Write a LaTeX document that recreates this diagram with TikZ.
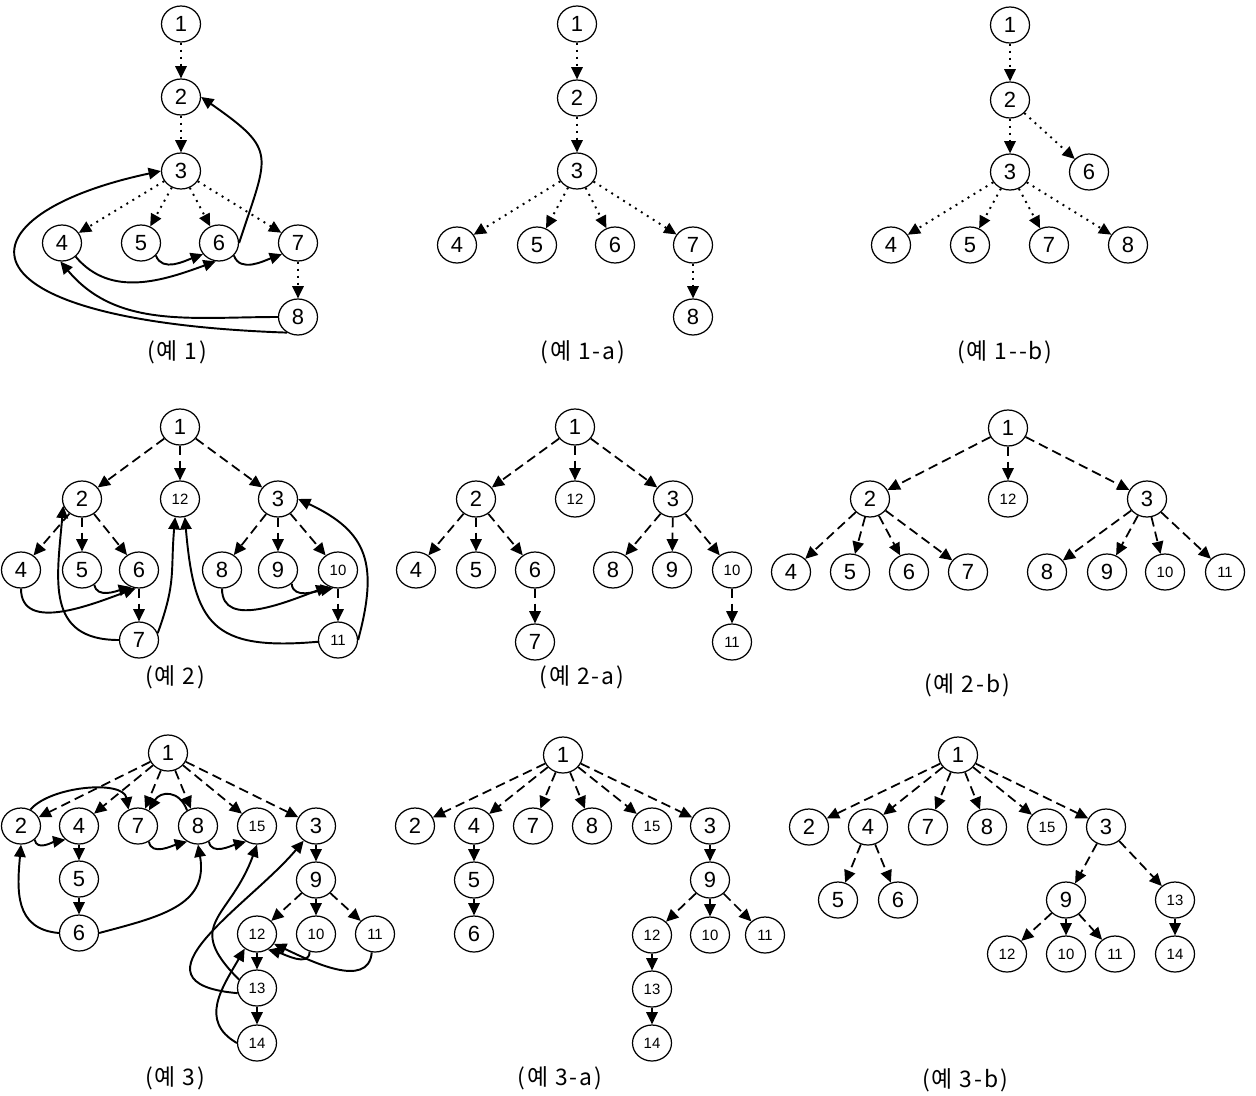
\documentclass[tikz,border=0pt]{standalone}
\usepackage{fontspec}
\setmainfont{Liberation Sans}
\newfontfamily\krfont[LetterSpace=8]{Noto Sans CJK KR}
\usetikzlibrary{arrows.meta,shapes.geometric}

\begin{document}
\begin{tikzpicture}[
        x=0.02cm, y=-0.02cm,
    vtx/.style={ellipse, draw, line width=0.7pt, minimum width=0.78cm,
        minimum height=0.72cm, inner sep=0pt, font=\fontsize{12.5}{12.5}\selectfont},
    sm/.style={font=\fontsize{8.5}{8.5}\selectfont},
    ttl/.style={inner sep=0pt, font=\krfont\fontsize{13}{13}\selectfont},
    arrhead/.style={-{Triangle[length=7pt,width=6.5pt]}},
    dotarr/.style={arrhead, line width=1.1pt, dash pattern=on 1.1pt off 2.9pt},
    dasharr/.style={arrhead, line width=1pt, dash pattern=on 5.5pt off 3pt},
    backarr/.style={arrhead, line width=1.1pt}
]
    \useasboundingbox (0,0) rectangle (1256,1095);

    \node[vtx] (A1) at (181,24) {1};
    \node[vtx] (A2) at (181,97) {2};
    \node[vtx] (A3) at (181,171) {3};
    \node[vtx] (A4) at (62,243) {4};
    \node[vtx] (A5) at (141,243) {5};
    \node[vtx] (A6) at (219,243) {6};
    \node[vtx] (A7) at (298,243) {7};
    \node[vtx] (A8) at (298,317) {8};
    \node[ttl] (ttlA) at (177,352) {(예 1)};

    \node[vtx] (Aa1) at (577,24) {1};
    \node[vtx] (Aa2) at (577,98) {2};
    \node[vtx] (Aa3) at (577,171) {3};
    \node[vtx] (Aa4) at (457,245) {4};
    \node[vtx] (Aa5) at (537,245) {5};
    \node[vtx] (Aa6) at (615,245) {6};
    \node[vtx] (Aa7) at (693,245) {7};
    \node[vtx] (Aa8) at (693,317) {8};
    \node[ttl] (ttlAa) at (583,352) {(예 1-a)};

    \node[vtx] (Ab1) at (1010,25) {1};
    \node[vtx] (Ab2) at (1010,100) {2};
    \node[vtx] (Ab3) at (1010,172) {3};
    \node[vtx] (Ab6) at (1089,172) {6};
    \node[vtx] (Ab4) at (891,245) {4};
    \node[vtx] (Ab5) at (970,245) {5};
    \node[vtx] (Ab7) at (1049,245) {7};
    \node[vtx] (Ab8) at (1128,245) {8};
    \node[ttl] (ttlAb) at (1005,352) {(예 1-{}-b)};

    \node[vtx] (B1) at (180,427) {1};
    \node[vtx] (B2) at (82,499) {2};
    \node[vtx,sm] (B12) at (180,499) {12};
    \node[vtx] (B3) at (278,499) {3};
    \node[vtx] (B4) at (21,570) {4};
    \node[vtx] (B5) at (82,570) {5};
    \node[vtx] (B6) at (139,570) {6};
    \node[vtx] (B8) at (222,570) {8};
    \node[vtx] (B9) at (278,570) {9};
    \node[vtx,sm] (B10) at (338,570) {10};
    \node[vtx] (B7) at (139,640) {7};
    \node[vtx,sm] (B11) at (338,640) {11};
    \node[ttl] (ttlB) at (175,677) {(예 2)};

    \node[vtx] (Ba1) at (575,427) {1};
    \node[vtx] (Ba2) at (476,499) {2};
    \node[vtx,sm] (Ba12) at (575,499) {12};
    \node[vtx] (Ba3) at (673,499) {3};
    \node[vtx] (Ba4) at (416,570) {4};
    \node[vtx] (Ba5) at (476,570) {5};
    \node[vtx] (Ba6) at (535,570) {6};
    \node[vtx] (Ba8) at (613,570) {8};
    \node[vtx] (Ba9) at (672,570) {9};
    \node[vtx,sm] (Ba10) at (732,570) {10};
    \node[vtx] (Ba7) at (535,642) {7};
    \node[vtx,sm] (Ba11) at (732,642) {11};
    \node[ttl] (ttlBa) at (582,677) {(예 2-a)};

    \node[vtx] (Bb1) at (1008,428) {1};
    \node[vtx] (Bb2) at (870,499) {2};
    \node[vtx,sm] (Bb12) at (1008,499) {12};
    \node[vtx] (Bb3) at (1147,499) {3};
    \node[vtx] (Bb4) at (791,572) {4};
    \node[vtx] (Bb5) at (850,572) {5};
    \node[vtx] (Bb6) at (909,572) {6};
    \node[vtx] (Bb7) at (968,572) {7};
    \node[vtx] (Bb8) at (1047,572) {8};
    \node[vtx] (Bb9) at (1107,572) {9};
    \node[vtx,sm] (Bb10) at (1165,572) {10};
    \node[vtx,sm] (Bb11) at (1225,572) {11};
    \node[ttl] (ttlBb) at (967,685) {(예 2-b)};

    \node[vtx] (C1) at (168,753) {1};
    \node[vtx] (C2) at (21,826) {2};
    \node[vtx] (C4) at (79,826) {4};
    \node[vtx] (C7) at (138,826) {7};
    \node[vtx] (C8) at (198,826) {8};
    \node[vtx,sm] (C15) at (257,826) {15};
    \node[vtx] (C3) at (316,826) {3};
    \node[vtx] (C5) at (79,879) {5};
    \node[vtx] (C6) at (79,933) {6};
    \node[vtx] (C9) at (316,880) {9};
    \node[vtx,sm] (C12) at (257,934) {12};
    \node[vtx,sm] (C10) at (316,934) {10};
    \node[vtx,sm] (C11) at (375,934) {11};
    \node[vtx,sm] (C13) at (257,988) {13};
    \node[vtx,sm] (C14) at (257,1043) {14};
    \node[ttl] (ttlC) at (175,1078) {(예 3)};

    \node[vtx] (Ca1) at (563,755) {1};
    \node[vtx] (Ca2) at (415,826) {2};
    \node[vtx] (Ca4) at (474,826) {4};
    \node[vtx] (Ca7) at (533,826) {7};
    \node[vtx] (Ca8) at (592,826) {8};
    \node[vtx,sm] (Ca15) at (652,826) {15};
    \node[vtx] (Ca3) at (710,826) {3};
    \node[vtx] (Ca5) at (474,880) {5};
    \node[vtx] (Ca6) at (474,934) {6};
    \node[vtx] (Ca9) at (710,880) {9};
    \node[vtx,sm] (Ca12) at (652,935) {12};
    \node[vtx,sm] (Ca10) at (710,935) {10};
    \node[vtx,sm] (Ca11) at (765,935) {11};
    \node[vtx,sm] (Ca13) at (652,989) {13};
    \node[vtx,sm] (Ca14) at (652,1043) {14};
    \node[ttl] (ttlCa) at (560,1078) {(예 3-a)};

    \node[vtx] (Cb1) at (958,755) {1};
    \node[vtx] (Cb2) at (809,827) {2};
    \node[vtx] (Cb4) at (868,827) {4};
    \node[vtx] (Cb7) at (928,827) {7};
    \node[vtx] (Cb8) at (987,827) {8};
    \node[vtx,sm] (Cb15) at (1047,827) {15};
    \node[vtx] (Cb3) at (1106,827) {3};
    \node[vtx] (Cb5) at (838,900) {5};
    \node[vtx] (Cb6) at (898,900) {6};
    \node[vtx] (Cb9) at (1066,900) {9};
    \node[vtx,sm] (Cb13) at (1175,900) {13};
    \node[vtx,sm] (Cb12) at (1007,954) {12};
    \node[vtx,sm] (Cb10) at (1066,954) {10};
    \node[vtx,sm] (Cb11) at (1115,954) {11};
    \node[vtx,sm] (Cb14) at (1175,954) {14};
    \node[ttl] (ttlCb) at (965,1080) {(예 3-b)};

    % (예 1)
    \draw[dotarr] (A1) -- (A2);
    \draw[dotarr] (A2) -- (A3);
    \draw[dotarr] (A3) -- (A4);
    \draw[dotarr] (A3) -- (A5);
    \draw[dotarr] (A3) -- (A6);
    \draw[dotarr] (A3) -- (A7);
    \draw[dotarr] (A7) -- (A8);
    \draw[backarr] (A6.east)
        to [out=72,in=-35,looseness=1.6] (A2.east);
    \draw[backarr] (A5.-40) to [out=-70,in=-160] (A6.-145);
    \draw[backarr] (A6.-40) to [out=-70,in=-160] (A7.-145);
    \draw[backarr] (A4.-45) to [out=-50,in=-160] (A6.-100);
    \draw[backarr] (A8.west) to [out=180,in=-50] (A4.-95);
    \draw[backarr] (A8.-125)
        to [out=178,in=-168,out looseness=4.3,in looseness=2.6] (A3.west);

    % (예 1-a), (예 1-b)
    \draw[dotarr] (Aa1) -- (Aa2);
    \draw[dotarr] (Aa2) -- (Aa3);
    \draw[dotarr] (Aa3) -- (Aa4);
    \draw[dotarr] (Aa3) -- (Aa5);
    \draw[dotarr] (Aa3) -- (Aa6);
    \draw[dotarr] (Aa3) -- (Aa7);
    \draw[dotarr] (Aa7) -- (Aa8);
    \draw[dotarr] (Ab1) -- (Ab2);
    \draw[dotarr] (Ab2) -- (Ab3);
    \draw[dotarr] (Ab2) -- (Ab6);
    \draw[dotarr] (Ab3) -- (Ab4);
    \draw[dotarr] (Ab3) -- (Ab5);
    \draw[dotarr] (Ab3) -- (Ab7);
    \draw[dotarr] (Ab3) -- (Ab8);

    % (예 2)
    \draw[dasharr] (B1) -- (B2);
    \draw[dasharr] (B1) -- (B12);
    \draw[dasharr] (B1) -- (B3);
    \draw[dasharr] (B2) -- (B4);
    \draw[dasharr] (B2) -- (B5);
    \draw[dasharr] (B2) -- (B6);
    \draw[dasharr] (B6) -- (B7);
    \draw[dasharr] (B3) -- (B8);
    \draw[dasharr] (B3) -- (B9);
    \draw[dasharr] (B3) -- (B10);
    \draw[dasharr] (B10) -- (B11);
    \draw[backarr] (B5.-50) to [out=-80,in=-165] (B6.-115);
    \draw[backarr] (B4.south) to [out=-90,in=-160] (B6.-100);
    \draw[backarr] (B7.west) to [out=180,in=-95,looseness=1.3] (B2.-160);
    \draw[backarr] (B7.20) to [out=70,in=-95,looseness=1.2] (B12.-105);
    \draw[backarr] (B11.185) to [out=185,in=-85,looseness=1.5] (B12.-75);
    \draw[backarr] (B11.east) to [out=75,in=-25,looseness=1.3] (B3.east);
    \draw[backarr] (B8.south) to [out=-90,in=-160] (B10.-120);
    \draw[backarr] (B9.-45) to [out=-85,in=-170] (B10.-105);

    % (예 2-a), (예 2-b)
    \draw[dasharr] (Ba1) -- (Ba2);
    \draw[dasharr] (Ba1) -- (Ba12);
    \draw[dasharr] (Ba1) -- (Ba3);
    \draw[dasharr] (Ba2) -- (Ba4);
    \draw[dasharr] (Ba2) -- (Ba5);
    \draw[dasharr] (Ba2) -- (Ba6);
    \draw[dasharr] (Ba6) -- (Ba7);
    \draw[dasharr] (Ba3) -- (Ba8);
    \draw[dasharr] (Ba3) -- (Ba9);
    \draw[dasharr] (Ba3) -- (Ba10);
    \draw[dasharr] (Ba10) -- (Ba11);
    \draw[dasharr] (Bb1) -- (Bb2);
    \draw[dasharr] (Bb1) -- (Bb12);
    \draw[dasharr] (Bb1) -- (Bb3);
    \draw[dasharr] (Bb2) -- (Bb4);
    \draw[dasharr] (Bb2) -- (Bb5);
    \draw[dasharr] (Bb2) -- (Bb6);
    \draw[dasharr] (Bb2) -- (Bb7);
    \draw[dasharr] (Bb3) -- (Bb8);
    \draw[dasharr] (Bb3) -- (Bb9);
    \draw[dasharr] (Bb3) -- (Bb10);
    \draw[dasharr] (Bb3) -- (Bb11);

    % (예 3)
    \draw[dasharr] (C1) -- (C2);
    \draw[dasharr] (C1) -- (C4);
    \draw[dasharr] (C1) -- (C7);
    \draw[dasharr] (C1) -- (C8);
    \draw[dasharr] (C1) -- (C15);
    \draw[dasharr] (C1) -- (C3);
    \draw[dasharr] (C4) -- (C5);
    \draw[dasharr] (C5) -- (C6);
    \draw[dasharr] (C3) -- (C9);
    \draw[dasharr] (C9) -- (C12);
    \draw[dasharr] (C9) -- (C10);
    \draw[dasharr] (C9) -- (C11);
    \draw[dasharr] (C12) -- (C13);
    \draw[dasharr] (C13) -- (C14);
    \draw[backarr] (C2.60) to [out=50,in=100,looseness=0.8] (C7.120);
    \draw[backarr] (C2.-45) to [out=-80,in=-170] (C4.-135);
    \draw[backarr] (C8.125) to [out=110,in=60,looseness=1.5] (C7.55);
    \draw[backarr] (C7.-55) to [out=-80,in=-165] (C8.-125);
    \draw[backarr] (C8.-55) to [out=-80,in=-165] (C15.-125);
    \draw[backarr] (C6.west) to [out=175,in=-95,looseness=1.2] (C2.south);
    \draw[backarr] (C6.east) to [out=15,in=-80,looseness=1.2] (C8.south);
    \draw[backarr] (C13.155) to [out=135,in=-110,looseness=1.5] (C15.south);
    \draw[backarr] (C13.-165)
        to [out=175,in=-130,out looseness=1.8,in looseness=1.3] (C3.-130);
    \draw[backarr] (C14.west) to [out=150,in=-120,looseness=1.2] (C12.-130);
    \draw[backarr] (C10.-110) to [out=-90,in=-15] (C12.-55);
    \draw[backarr] (C11.-100) to [out=-95,in=-25] (C12.-30);

    % (예 3-a), (예 3-b)
    \draw[dasharr] (Ca1) -- (Ca2);
    \draw[dasharr] (Ca1) -- (Ca4);
    \draw[dasharr] (Ca1) -- (Ca7);
    \draw[dasharr] (Ca1) -- (Ca8);
    \draw[dasharr] (Ca1) -- (Ca15);
    \draw[dasharr] (Ca1) -- (Ca3);
    \draw[dasharr] (Ca4) -- (Ca5);
    \draw[dasharr] (Ca5) -- (Ca6);
    \draw[dasharr] (Ca3) -- (Ca9);
    \draw[dasharr] (Ca9) -- (Ca12);
    \draw[dasharr] (Ca9) -- (Ca10);
    \draw[dasharr] (Ca9) -- (Ca11);
    \draw[dasharr] (Ca12) -- (Ca13);
    \draw[dasharr] (Ca13) -- (Ca14);
    \draw[dasharr] (Cb1) -- (Cb2);
    \draw[dasharr] (Cb1) -- (Cb4);
    \draw[dasharr] (Cb1) -- (Cb7);
    \draw[dasharr] (Cb1) -- (Cb8);
    \draw[dasharr] (Cb1) -- (Cb15);
    \draw[dasharr] (Cb1) -- (Cb3);
    \draw[dasharr] (Cb4) -- (Cb5);
    \draw[dasharr] (Cb4) -- (Cb6);
    \draw[dasharr] (Cb3) -- (Cb9);
    \draw[dasharr] (Cb3) -- (Cb13);
    \draw[dasharr] (Cb9) -- (Cb12);
    \draw[dasharr] (Cb9) -- (Cb10);
    \draw[dasharr] (Cb9) -- (Cb11);
    \draw[dasharr] (Cb13) -- (Cb14);
\end{tikzpicture}
\end{document}
